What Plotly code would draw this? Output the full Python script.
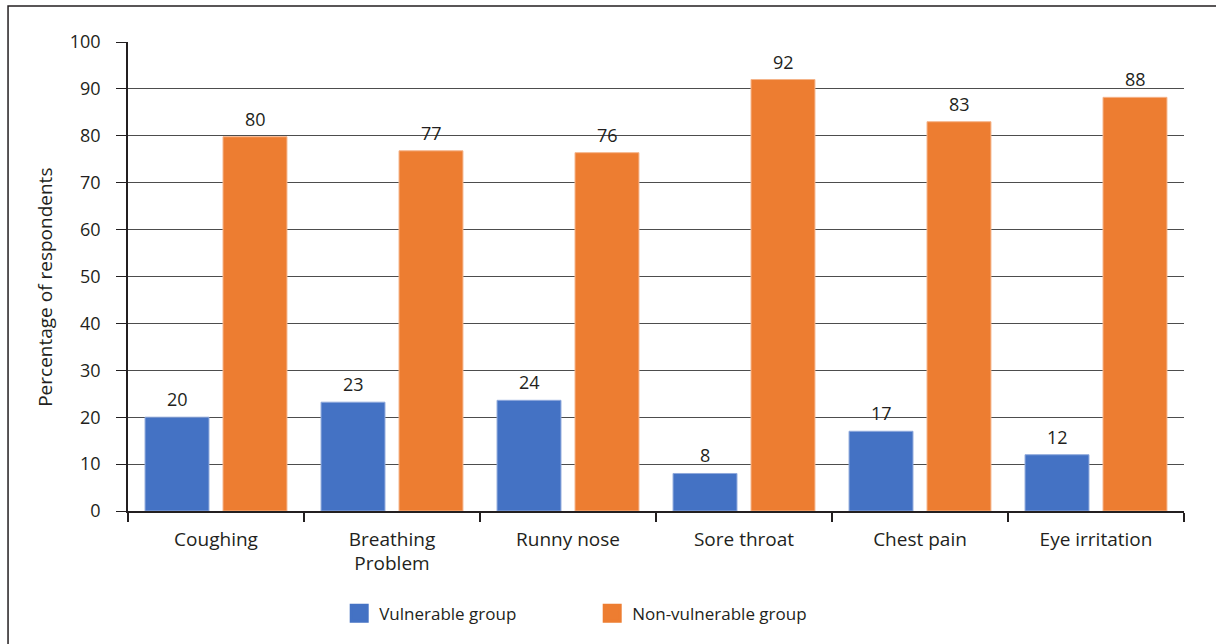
import plotly.graph_objects as go

categories = ["Coughing", "Breathing<br>Problem", "Runny nose", "Sore throat", "Chest pain", "Eye irritation"]
vulnerable = [20.0, 23.2, 23.6, 8.0, 17.0, 12.0]
non_vulnerable = [79.8, 76.8, 76.4, 92.0, 83.0, 88.2]
series_names = ["Vulnerable group", "Non-vulnerable group"]
y_ticks = [0, 10, 20, 30, 40, 50, 60, 70, 80, 90, 100]
y_title = "Percentage of respondents"

FONT = "Open Sans"
TXT = "#231f20"
BLUE = "#4472C4"
ORANGE = "#ED7D31"

fig = go.Figure()
fig.add_trace(go.Bar(
    x=categories, y=vulnerable, name=series_names[0], showlegend=False,
    marker=dict(color=BLUE, line=dict(color="#8fa9dc", width=1)),
))
fig.add_trace(go.Bar(
    x=categories, y=non_vulnerable, name=series_names[1], showlegend=False,
    marker=dict(color=ORANGE, line=dict(color="#f5b48a", width=1)),
))
# legend entries with larger square swatches
for name, col in zip(series_names, [BLUE, ORANGE]):
    fig.add_trace(go.Scatter(x=[None], y=[None], mode="markers", name=name,
                             marker=dict(symbol="square", size=18, color=col,
                                         line=dict(color=col, width=3))))

annotations = []
for vals, shift in [(vulnerable, -39), (non_vulnerable, 39)]:
    for c, v in zip(categories, vals):
        annotations.append(dict(x=c, y=v, xref="x", yref="y", text=f"{v:.0f}",
                                showarrow=False, xshift=shift, yshift=18,
                                yanchor="middle",
                                font=dict(size=18, family=FONT, color=TXT)))
annotations.append(dict(x=-0.0786, y=0.478, xref="paper", yref="paper", text=y_title,
                        textangle=-90, showarrow=False, xanchor="center", yanchor="middle",
                        font=dict(size=19, family=FONT, color=TXT)))

fig.update_layout(
    width=1216, height=644,
    margin=dict(l=128, r=32, t=42, b=133),
    paper_bgcolor="white", plot_bgcolor="white",
    barmode="group", bargap=0.114, bargroupgap=0.18,
    font=dict(family=FONT, size=16, color=TXT),
    showlegend=True,
    legend=dict(orientation="h", x=0.2, xanchor="left", y=-0.219, yanchor="middle",
                font=dict(size=17, family=FONT, color=TXT), itemwidth=30,
                entrywidth=208, itemsizing="trace"),
    xaxis=dict(showline=True, linecolor="#231f20", linewidth=1.5,
               ticks="outside", tickson="boundaries", ticklen=9, tickcolor="#231f20",
               tickwidth=1.5, ticklabelstandoff=10,
               tickfont=dict(size=19, family=FONT, color=TXT)),
    yaxis=dict(range=[0, 100], tickvals=y_ticks, showgrid=True, gridcolor="#4d4d4d",
               gridwidth=1, showline=True, linecolor="#231f20", linewidth=1.5,
               ticks="outside", ticklen=10, tickcolor="#231f20", ticklabelstandoff=12,
               tickfont=dict(size=18, family=FONT, color=TXT), zeroline=False),
    annotations=annotations,
    shapes=[dict(type="rect", xref="paper", yref="paper",
                 x0=-0.1136, x1=1.05, y0=-0.3, y1=1.0768,
                 line=dict(color="#231f20", width=1.5), fillcolor="rgba(0,0,0,0)")],
)

fig.write_html("out.html")
